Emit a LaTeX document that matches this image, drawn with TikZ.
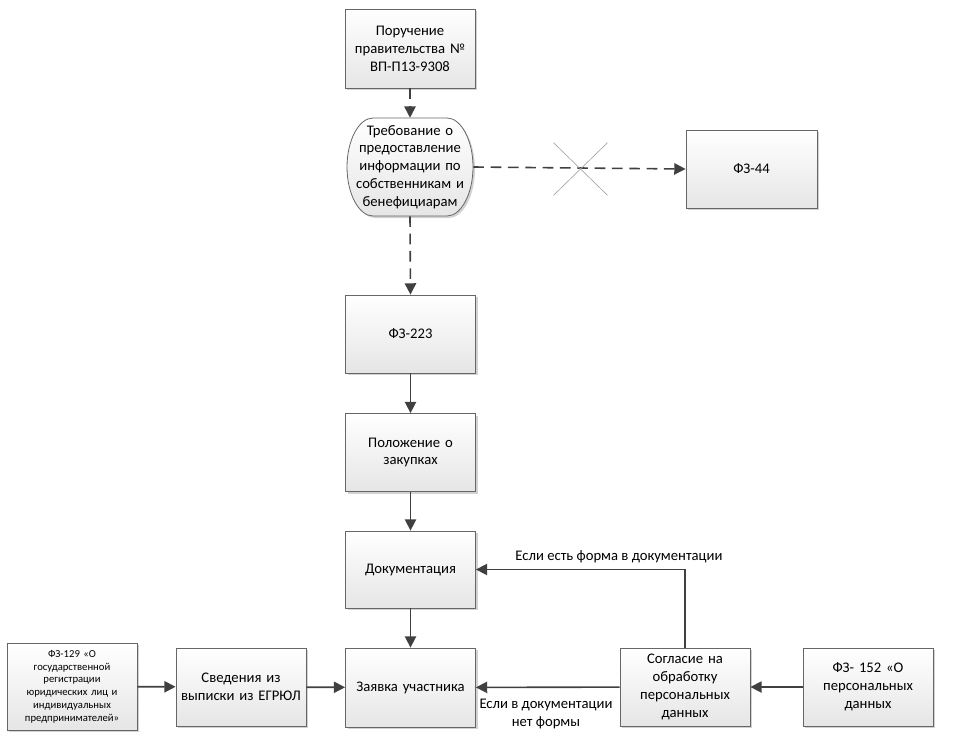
\documentclass[tikz,border=0pt]{standalone}
\usepackage{fontspec}
\setmainfont{Carlito}
\usetikzlibrary{arrows.meta,shadows,shapes.misc}
\begin{document}
\begin{tikzpicture}[x=0.75pt,y=-0.75pt,
  every node/.style={font=\fontsize{11}{13.4}\selectfont},
  shade/.style={top color=white, bottom color=black!10,
    drop shadow={shadow xshift=1.5pt, shadow yshift=-1.5pt, fill=black!35, opacity=0.5}},
  box/.style={rectangle, draw=black!60, line width=0.6pt, shade,
    minimum width=97.5pt, minimum height=58.5pt, text width=92pt, align=center, inner sep=2pt},
  arr/.style={draw=black!75, line width=1.2pt, -{Triangle[length=8.5pt,width=8.5pt]}},
  darr/.style={arr, dash pattern=on 8pt off 5pt},
  lbl/.style={inner sep=1pt, align=center},
  xmark/.style={cross out, draw=black!35, line width=0.5pt, minimum width=40pt, minimum height=39pt, inner sep=0pt}]
\useasboundingbox (0,0) rectangle (959,746);

% top box
\node[box, minimum height=59.25pt] (b1) at (410,48.5) {Поручение\\правительства №\\ВП-П13-9308};

% stadium shape
\path[draw=black!60, line width=0.6pt, shade]
  (373,118) -- (447,118) .. controls (461,118) and (473,140) .. (473,167)
  .. controls (473,194) and (461,216) .. (447,216) -- (373,216)
  .. controls (359,216) and (347,194) .. (347,167)
  .. controls (347,140) and (359,118) .. (373,118) -- cycle;
\node[inner sep=0pt, minimum width=94.5pt, minimum height=73.5pt, text width=92pt, align=center] (req) at (410,167)
  {Требование о\\предоставление\\информации по\\собственникам и\\бенефициарам};

\node[box, minimum width=98.25pt] (fz44) at (751.5,169) {ФЗ-44};
\node[box] (fz223) at (410.5,334) {ФЗ-223};
\node[box] (pol) at (410.5,452.5) {Положение о\\закупках};
\node[box, minimum height=57.75pt] (doc) at (410.5,569.5) {Документация};
\node[box, minimum height=59.25pt] (zay) at (410.5,687.5) {Заявка участника};

\node[box, minimum height=65.25pt, text width=92pt, font=\fontsize{8}{9.55}\selectfont] (fz129) at (72,686.5)
  {ФЗ-129 «О\\государственной\\регистрации\\юридических лиц и\\индивидуальных\\предпринимателей»};
\node[box] (sved) at (241,687) {Сведения из\\выписки из ЕГРЮЛ};
\node[box] (sogl) at (685,687) {Согласие на\\обработку\\персональных\\данных};
\node[box] (fz152) at (868,687) {ФЗ- 152 «О\\персональных\\данных};

% connectors
\draw[darr] (b1.south) -- (req.north);
\draw[darr] (req.south) -- (fz223.north);
\draw[darr] (req.east) -- (fz44.west);
\node[xmark] (x) at (580.5,169) {};

\draw[arr] (fz223) -- (pol);
\draw[arr] (pol) -- (doc);
\draw[arr] (doc) -- (zay);

\draw[arr] (fz129) -- (sved);
\draw[arr] (sved) -- (zay);
\draw[arr] (fz152) -- (sogl);
\draw[arr] (sogl) -- (zay);
\draw[arr] (sogl.north) |- (doc.east);

\node[lbl] (l1) at (619,557) {Если есть форма в документации};
\node[lbl] (l2) at (546,714) {Если в документации\\нет формы};
\end{tikzpicture}
\end{document}
